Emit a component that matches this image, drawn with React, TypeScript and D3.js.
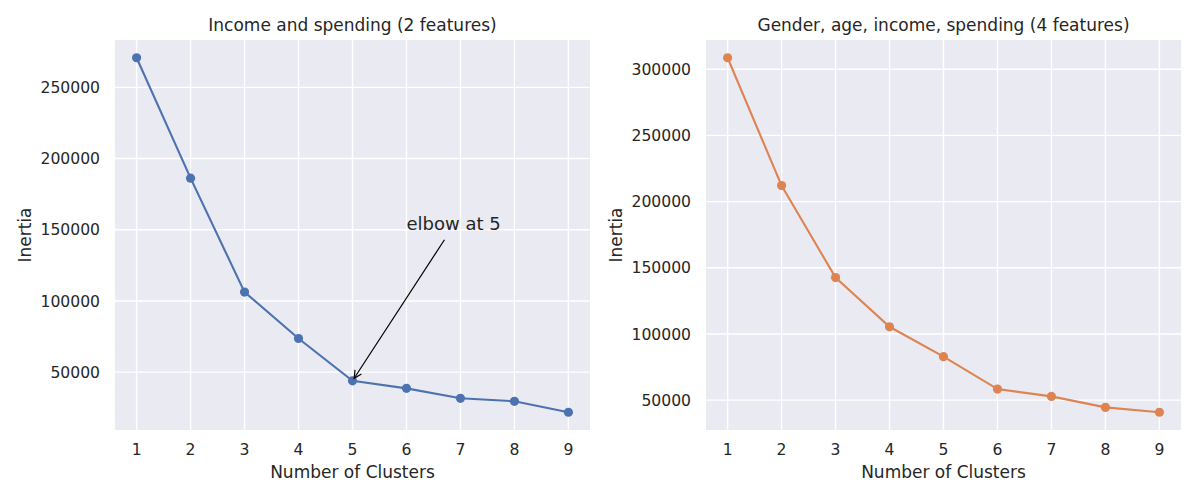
import React from "react";
import * as d3 from "d3";

const clusters = [1, 2, 3, 4, 5, 6, 7, 8, 9];
const inertiaTwo = [270800, 186200, 106200, 73600, 43900, 38600, 31600, 29500, 21800];
const inertiaFour = [308700, 212100, 142600, 105400, 82800, 58300, 52800, 44500, 40800];
const ticksTwo = [50000, 100000, 150000, 200000, 250000];
const ticksFour = [50000, 100000, 150000, 200000, 250000, 300000];

const width = 1200;
const height = 500;
const top = 40;
const bottom = 430;
const textColor = "#262626";
const font = "DejaVu Sans, sans-serif";

interface IProps {
  left: number;
  title: string;
  values: number[];
  ticks: number[];
  color: string;
  annotate?: boolean;
}

const Panel = ({ left, title, values, ticks, color, annotate }: IProps) => {
  const right = left + 475;

  // matplotlib style 5% margins
  const xScale = d3.scaleLinear().domain([0.6, 9.4]).range([left, right]);
  const [lo, hi] = d3.extent(values) as [number, number];
  const pad = (hi - lo) * 0.05;
  const yScale = d3.scaleLinear().domain([lo - pad, hi + pad]).range([bottom, top]);

  const line = d3
    .line<number>()
    .x((_, i) => xScale(clusters[i]))
    .y((d) => yScale(d));

  // annotation "elbow at 5", text placed at (6, 150000)
  let arrow = null;
  if (annotate) {
    const tx = xScale(6);
    const ty = yScale(150000);
    const x0 = tx + 38;
    const y0 = ty + 10;
    const px = xScale(5);
    const py = yScale(values[4]);
    const ang = Math.atan2(py - y0, px - x0);
    const x1 = px - Math.cos(ang) * 3;
    const y1 = py - Math.sin(ang) * 3;
    const hl = 7.5;
    const hw = 3.8;
    const bx = x1 - Math.cos(ang) * hl;
    const by = y1 - Math.sin(ang) * hl;
    const nx = -Math.sin(ang) * hw;
    const ny = Math.cos(ang) * hw;
    arrow = (
      <g>
        <text x={tx} y={ty} fontSize={18} fill={textColor} fontFamily={font}>
          elbow at 5
        </text>
        <line x1={x0} y1={y0} x2={x1} y2={y1} stroke="#000" strokeWidth={1.2} />
        <path
          d={`M${bx + nx},${by + ny}L${x1},${y1}L${bx - nx},${by - ny}`}
          fill="none"
          stroke="#000"
          strokeWidth={1.2}
        />
      </g>
    );
  }

  return (
    <g fontFamily={font}>
      <rect x={left} y={top} width={right - left} height={bottom - top} fill="#EAEAF2" />
      {clusters.map((c) => (
        <line key={"gx" + c} x1={xScale(c)} x2={xScale(c)} y1={top} y2={bottom} stroke="#fff" strokeWidth={1.4} />
      ))}
      {ticks.map((t) => (
        <line key={"gy" + t} x1={left} x2={right} y1={yScale(t)} y2={yScale(t)} stroke="#fff" strokeWidth={1.4} />
      ))}
      {clusters.map((c) => (
        <text key={"tx" + c} x={xScale(c)} y={455} textAnchor="middle" fontSize={15.6} fill={textColor}>
          {c}
        </text>
      ))}
      {ticks.map((t) => (
        <text
          key={"ty" + t}
          x={left - 15}
          y={yScale(t)}
          dy="0.36em"
          textAnchor="end"
          fontSize={15.6}
          fill={textColor}
        >
          {t}
        </text>
      ))}
      <path d={line(values) ?? ""} fill="none" stroke={color} strokeWidth={2.1} />
      {values.map((v, i) => (
        <circle key={i} cx={xScale(clusters[i])} cy={yScale(v)} r={4.6} fill={color} />
      ))}
      {arrow}
      <text x={(left + right) / 2} y={31} textAnchor="middle" fontSize={17} fill={textColor}>
        {title}
      </text>
      <text x={(left + right) / 2} y={478} textAnchor="middle" fontSize={17} fill={textColor}>
        Number of Clusters
      </text>
      <text
        transform={`translate(${left - 84},${(top + bottom) / 2}) rotate(-90)`}
        textAnchor="middle"
        fontSize={17}
        fill={textColor}
      >
        Inertia
      </text>
    </g>
  );
};

const App = () => {
  return (
    <svg width={width} height={height} style={{ position: "absolute", left: 0, top: 0, background: "#fff" }}>
      <rect width={width} height={height} fill="#fff" />
      <Panel
        left={115}
        title="Income and spending (2 features)"
        values={inertiaTwo}
        ticks={ticksTwo}
        color="#4C72B0"
        annotate
      />
      <Panel
        left={706}
        title="Gender, age, income, spending (4 features)"
        values={inertiaFour}
        ticks={ticksFour}
        color="#DD8452"
      />
    </svg>
  );
};

export default App;
